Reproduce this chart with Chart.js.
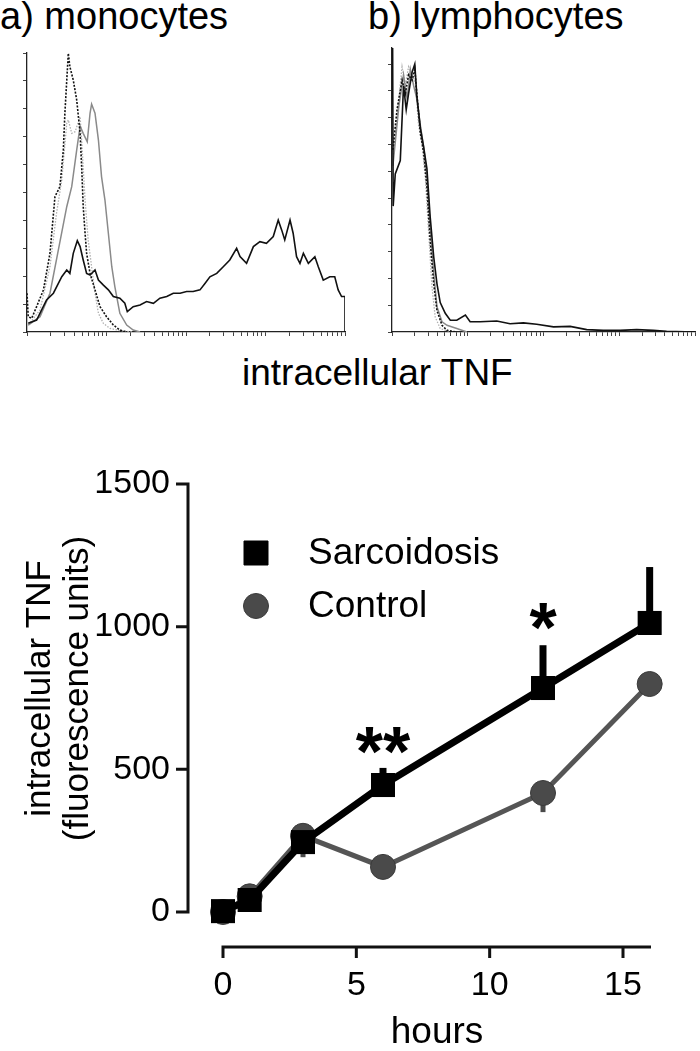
<!DOCTYPE html>
<html>
<head>
<meta charset="utf-8">
<script src="https://cdn.jsdelivr.net/npm/chart.js@4.4.1/dist/chart.umd.min.js"></script>
<style>
  body { margin: 0; background: #fff; font-family: "Liberation Sans", Arial, sans-serif; }
  #wrap { position: relative; width: 700px; height: 1051px; overflow: hidden; }
  .lbl { position: absolute; white-space: nowrap; color: #000; line-height: 1; }
  canvas { position: absolute; }
</style>
</head>
<body>
<div id="wrap">
  <div class="lbl" style="left:0px;top:-3px;font-size:38px">a) monocytes</div>
  <div class="lbl" style="left:368px;top:-3px;font-size:38px">b) lymphocytes</div>
  <div class="lbl" style="left:242px;top:354px;font-size:37px">intracellular TNF</div>
  <canvas id="mono" width="360" height="300" style="left:0px;top:40px"></canvas>
  <canvas id="lymph" width="330" height="300" style="left:370px;top:40px"></canvas>
  <canvas id="kinetics" width="700" height="651" style="left:0px;top:400px"></canvas>
</div>
<script>
// histogram curves: channel (0-1024, 4 log decades) and events
const monoBlackCh = [4,31,63,85,112,128,138,149,162,171,181,192,203,219,230,246,262,278,299,315,323,342,364,385,407,428,450,471,493,514,535,557,573,589,611,632,653,675,686,707,729,750,771,793,809,820,830,847,857,868,879,890,906,927,938,954,975,991,1002,1013,1024,1024];
const monoBlackN = [3.1,4.3,11.5,13.9,19.8,22.2,21.0,28.2,32.7,30.6,25.8,21.0,20.4,22.2,18.6,16.8,15.1,12.7,12.1,10.3,7.3,9.1,9.7,10.9,10.3,12.1,12.7,13.9,13.9,14.5,14.5,15.1,17.4,19.8,21.0,23.4,25.8,30.0,27.0,24.6,30.6,32.4,31.8,34.2,40.1,36.6,33.0,40.1,35.4,27.0,24.6,28.2,24.6,27.0,23.4,18.6,19.8,19.8,15.1,12.7,12.7,0];
const monoDashCh = [0,4,15,31,53,74,90,106,117,122,133,138,149,160,171,176,181,187,192,203,219,235,256,278,299,321];
const monoDashN = [13.9,5.5,4.9,9.1,15.1,28.2,48.5,52.1,65.2,78.4,99.9,95.1,90.3,83.2,71.2,59.3,45.0,35.4,28.2,21.0,15.1,9.1,5.5,2.5,0.7,0];
const monoDotCh = [4,42,74,95,112,128,133,144,155,171,176,187,197,208,219,230,246,267,299,342];
const monoDotN = [2.5,7.9,23.4,42.5,54.5,74.8,76.0,71.2,71.8,77.2,68.8,47.3,33.0,23.4,13.9,6.7,3.1,1.3,0.5,0];
const monoGreyCh = [4,42,74,101,128,144,160,171,181,194,203,208,219,230,240,251,262,273,283,299,321,342,364];
const monoGreyN = [2.5,5.5,13.9,29.4,44.9,52.1,65.2,73.8,71.2,68.2,78.4,81.7,78.4,68.8,55.7,47.3,35.4,23.4,16.2,6.7,2.5,0.7,0];

const lymBlackCh = [2,4,11,28,39,48,56,68,77,84,96,107,118,129,141,152,163,180,197,219,248,264,298,354,399,444,489,546,602,658,714,771,827,883,928,1024];
const lymBlackN = [110,47,59,64,92,83,89,97,100,88,76,69,61,43,28,18,11,7,4.4,4.4,6.3,3.8,3.8,4.1,3.1,3.4,2.9,1.9,2.1,0.9,0.6,0.6,0.9,0.6,0.3,0];
const lymDashCh = [3,17,34,45,56,68,77,84,96,107,118,129,141,152,169,186,219];
const lymDashN = [68,83,94,89,96,94,98,89,74,67,54,34,18,8,2.5,0.6,0];
const lymDotCh = [3,23,34,45,56,68,79,90,101,113,124,135,146,163,197];
const lymDotN = [64,87,99,92,99,96,93,77,71,57,37,17,5.6,1.3,0];
const lymGreyCh = [3,23,39,51,62,73,84,96,107,118,129,141,152,169,186,219,253];
const lymGreyN = [62,84,96,87,98,92,87,77,69,58,39,22,9.4,3.8,2.5,1.3,0];

// time course
const hours = [0, 1, 3, 6, 12, 16];
const sarcoidosis = [3, 42, 245, 445, 785, 1013];
const sarcErr = [0, 10, 50, 60, 150, 196];
const control = [0, 55, 267, 158, 417, 799];
const controlErr = [0, 10, 75, 20, 67, 20];
const hourTicks = [0, 5, 10, 15];
const tnfTicks = [0, 500, 1000, 1500];
const starHours = [6, 12];
const starLevels = [592, 1027];
const starText = ['**', '*'];

Chart.defaults.font.family = '"Liberation Sans", Arial, sans-serif';
Chart.defaults.color = '#000';

const pts = (xs, ys) => xs.map((v, i) => ({ x: v, y: ys[i] }));

function logTicks() {
  const t = [];
  for (let k = 0; k < 4; k++)
    for (let m = 1; m < 10; m++) t.push({ value: 256 * (k + Math.log10(m)) });
  t.push({ value: 1024 });
  return t;
}

function curve(xs, ys, color, width, dash) {
  return {
    data: pts(xs, ys), borderColor: color, borderWidth: width,
    borderDash: dash || [], pointRadius: 0, tension: 0, fill: false
  };
}

function histOptions(yWidth, yMax, padTop, padRight) {
  return {
    responsive: false, animation: false,
    layout: { padding: { top: padTop, right: padRight, left: 0, bottom: 0 } },
    plugins: { legend: { display: false }, tooltip: { enabled: false } },
    scales: {
      x: {
        type: 'linear', min: 0, max: 1024,
        afterBuildTicks: s => { s.ticks = logTicks(); },
        afterFit: s => { s.height = 8; s.paddingLeft = 0; s.paddingRight = 0; },
        ticks: { display: false },
        grid: { drawOnChartArea: false, drawTicks: true, tickLength: 4, color: '#444', lineWidth: 1 },
        border: { display: true, color: '#222', width: 1.3 }
      },
      y: {
        min: 0, max: yMax,
        afterBuildTicks: s => { s.ticks = []; for (let v = 0; v <= 100; v += 10) s.ticks.push({ value: v }); },
        afterFit: s => { s.width = yWidth; s.paddingTop = 0; s.paddingBottom = 0; },
        ticks: { display: false },
        grid: { drawOnChartArea: false, drawTicks: true, tickLength: 4, color: '#444', lineWidth: 1 },
        border: { display: true, color: '#222', width: 1.3 }
      }
    }
  };
}

new Chart(document.getElementById('mono'), {
  type: 'line',
  data: {
    datasets: [
      curve(monoBlackCh, monoBlackN, '#111', 1.6),
      curve(monoDashCh, monoDashN, '#111', 1.6, [2, 1.5]),
      curve(monoGreyCh, monoGreyN, '#8a8a8a', 1.5),
      curve(monoDotCh, monoDotN, '#b0b0b0', 1.3, [1.5, 1.5])
    ]
  },
  options: histOptions(27, 100, 13, 15)
});

new Chart(document.getElementById('lymph'), {
  type: 'line',
  data: {
    datasets: [
      curve(lymBlackCh, lymBlackN, '#111', 1.6),
      curve(lymDashCh, lymDashN, '#111', 1.6, [2, 1.5]),
      curve(lymGreyCh, lymGreyN, '#8a8a8a', 1.5),
      curve(lymDotCh, lymDotN, '#b0b0b0', 1.3, [1.5, 1.5])
    ]
  },
  options: histOptions(22, 106, 8, 5)
});

// Prism-style detached axes
const yAxisGap = 35;
const offsetAxes = {
  id: 'offsetAxes',
  beforeDatasetsDraw(chart) {
    const { ctx, chartArea, scales: { x, y } } = chart;
    const ax = chartArea.left - yAxisGap;
    const ay = chartArea.bottom;
    ctx.save();
    ctx.strokeStyle = '#111';
    ctx.lineWidth = 3;
    ctx.beginPath();
    ctx.moveTo(ax, y.getPixelForValue(tnfTicks[tnfTicks.length - 1]));
    ctx.lineTo(ax, y.getPixelForValue(0));
    tnfTicks.forEach(v => {
      const p = y.getPixelForValue(v);
      ctx.moveTo(ax + 1.5, p); ctx.lineTo(ax - 12, p);
    });
    ctx.moveTo(x.getPixelForValue(0), ay);
    ctx.lineTo(x.getPixelForValue(x.max), ay);
    hourTicks.forEach(v => {
      const p = x.getPixelForValue(v);
      ctx.moveTo(p, ay - 1.5); ctx.lineTo(p, ay + 11);
    });
    ctx.stroke();
    ctx.restore();
  }
};

// one-sided SEM bars: up for sarcoidosis, down for controls
const errorBars = {
  id: 'errorBars',
  beforeDatasetsDraw(chart) {
    const { ctx, scales: { y } } = chart;
    const sets = [[0, sarcErr, 1, '#000', 7], [1, controlErr, -1, '#4a4a4a', 5]];
    ctx.save();
    sets.forEach(([di, errs, dir, color, w]) => {
      const meta = chart.getDatasetMeta(di);
      const vals = chart.data.datasets[di].data;
      ctx.strokeStyle = color;
      ctx.lineWidth = w;
      meta.data.forEach((pt, i) => {
        if (!errs[i]) return;
        ctx.beginPath();
        ctx.moveTo(pt.x, pt.y);
        ctx.lineTo(pt.x, y.getPixelForValue(vals[i].y + dir * errs[i]));
        ctx.stroke();
      });
    });
    ctx.restore();
  }
};

const stars = {
  id: 'stars',
  afterDatasetsDraw(chart) {
    const { ctx, scales: { x, y } } = chart;
    const size = 70;
    ctx.save();
    ctx.font = 'bold ' + size + 'px "Liberation Sans", Arial, sans-serif';
    ctx.fillStyle = '#000';
    ctx.textAlign = 'center';
    ctx.textBaseline = 'alphabetic';
    starText.forEach((t, i) => {
      ctx.fillText(t, x.getPixelForValue(starHours[i]), y.getPixelForValue(starLevels[i]) + 0.47 * size);
    });
    ctx.restore();
  }
};

// legend placed inside the plot, like the original
const insideLegend = {
  id: 'insideLegend',
  afterDraw(chart) {
    const { ctx } = chart;
    const mx = 256, tx = 308, rows = [153, 206];
    ctx.save();
    ctx.font = '37px "Liberation Sans", Arial, sans-serif';
    ctx.textBaseline = 'middle';
    chart.data.datasets.forEach((ds, i) => {
      const my = rows[i];
      ctx.fillStyle = ds.pointBackgroundColor;
      ctx.strokeStyle = ds.pointBorderColor;
      ctx.lineWidth = 1;
      ctx.beginPath();
      if (ds.pointStyle === 'rect') ctx.rect(mx - 12, my - 12, 24, 24);
      else ctx.arc(mx, my, 12.5, 0, Math.PI * 2);
      ctx.fill();
      ctx.stroke();
      ctx.fillStyle = '#000';
      ctx.fillText(ds.label, tx, my + 1);
    });
    ctx.restore();
  }
};

new Chart(document.getElementById('kinetics'), {
  type: 'line',
  data: {
    datasets: [
      {
        label: 'Sarcoidosis', data: pts(hours, sarcoidosis),
        borderColor: '#000', borderWidth: 7, tension: 0, clip: false,
        pointStyle: 'rect', pointRadius: 17, pointBorderWidth: 0,
        pointBackgroundColor: '#000', pointBorderColor: '#000'
      },
      {
        label: 'Control', data: pts(hours, control),
        borderColor: '#555', borderWidth: 5, tension: 0, clip: false,
        pointStyle: 'circle', pointRadius: 12.5, pointBorderWidth: 1,
        pointBackgroundColor: '#4a4a4a', pointBorderColor: '#3a3a3a'
      }
    ]
  },
  options: {
    responsive: false, animation: false,
    layout: { padding: { top: 30, right: 49, left: 0, bottom: 0 } },
    plugins: { legend: { display: false }, tooltip: { enabled: false } },
    scales: {
      x: {
        type: 'linear', min: 0, max: 16.05,
        afterBuildTicks: s => { s.ticks = hourTicks.map(v => ({ value: v })); },
        afterFit: s => { s.height = 104; s.paddingLeft = 0; s.paddingRight = 0; },
        grid: { display: false, drawTicks: false },
        border: { display: false },
        ticks: { font: { size: 34 }, padding: 18, color: '#000', maxRotation: 0, callback: v => String(v) },
        title: { display: true, text: 'hours', font: { size: 37, lineHeight: 1 }, padding: 0, color: '#000' }
      },
      y: {
        min: -122.7, max: 1689.3,
        afterBuildTicks: s => { s.ticks = tnfTicks.map(v => ({ value: v })); },
        afterFit: s => { s.width = 223; s.paddingTop = 0; s.paddingBottom = 0; },
        grid: { display: false, drawTicks: false },
        border: { display: false },
        ticks: { font: { size: 34 }, padding: 53, color: '#000', callback: v => String(v) },
        title: {
          display: true, text: ['intracellular TNF', '(fluorescence units)'],
          font: { size: 35, lineHeight: 1.1 }, padding: { top: 21, bottom: 0 }, color: '#000'
        }
      }
    }
  },
  plugins: [offsetAxes, errorBars, stars, insideLegend]
});
</script>
</body>
</html>
